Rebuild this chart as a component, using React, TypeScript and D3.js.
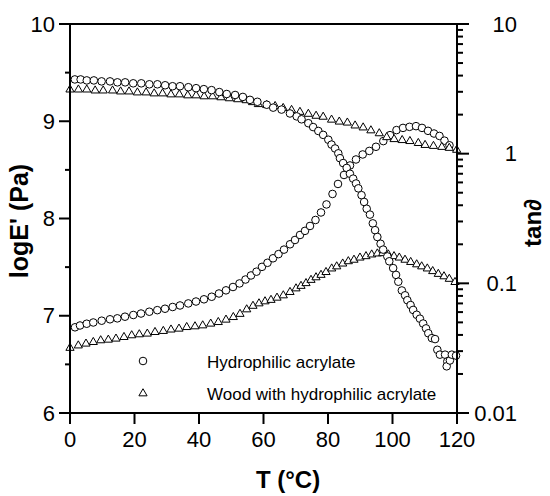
import React from "react";
import * as d3 from "d3";

// Hydrophilic acrylate: log E' (Pa) vs T (°C)
const acrylateModulus: [number, number][] = [
  [1.5, 9.43], [3.3, 9.43], [5.2, 9.42], [7.4, 9.42], [9.8, 9.41], [12.4, 9.41], [14.7, 9.4], [17.1, 9.4],
  [19.6, 9.39], [22.1, 9.39], [24.6, 9.38], [27.1, 9.38], [29.5, 9.37], [31.8, 9.36], [34.1, 9.36], [36.7, 9.35],
  [39.1, 9.34], [41.5, 9.33], [43.9, 9.32], [46.3, 9.3], [48.6, 9.28], [51.2, 9.27], [53.6, 9.25], [55.8, 9.22],
  [58.1, 9.2], [61.0, 9.17], [63.0, 9.14], [65.6, 9.12], [68.2, 9.08], [70.3, 9.05], [71.8, 9.02], [73.9, 8.98],
  [75.4, 8.94], [77.0, 8.9], [78.5, 8.86], [80.1, 8.81], [81.1, 8.76], [82.2, 8.72], [83.2, 8.67], [83.7, 8.62],
  [84.7, 8.57], [85.8, 8.52], [86.8, 8.46], [87.8, 8.41], [88.7, 8.36], [89.4, 8.31], [90.4, 8.24], [91.2, 8.17],
  [92.0, 8.1], [93.0, 8.04], [93.9, 7.95], [94.6, 7.88], [95.3, 7.81], [96.3, 7.74], [97.1, 7.68], [98.4, 7.61],
  [99.0, 7.56], [100.2, 7.49], [101.1, 7.42], [101.8, 7.35], [102.9, 7.26], [103.9, 7.21], [104.6, 7.16], [105.6, 7.11],
  [106.4, 7.06], [107.5, 7.01], [108.5, 6.97], [109.5, 6.92], [110.4, 6.87], [111.1, 6.82], [112.2, 6.77], [113.2, 6.76],
  [113.9, 6.65], [114.7, 6.6], [116.3, 6.6], [117.0, 6.53], [116.8, 6.48], [117.8, 6.54], [118.4, 6.6], [119.7, 6.59],
];

// Wood with hydrophilic acrylate: log E' (Pa) vs T (°C)
const woodModulus: [number, number][] = [
  [0, 9.33], [2.6, 9.33], [5.2, 9.33], [7.8, 9.32], [10.3, 9.32], [13.2, 9.32], [15.7, 9.31], [18.3, 9.31],
  [20.9, 9.3], [23.6, 9.3], [26.1, 9.29], [28.7, 9.29], [31.3, 9.28], [33.9, 9.28], [36.5, 9.27], [39.1, 9.27],
  [41.6, 9.26], [44.2, 9.26], [46.8, 9.25], [49.4, 9.24], [52.0, 9.23], [54.6, 9.22], [56.6, 9.2], [58.4, 9.18],
  [61.0, 9.17], [63.6, 9.16], [66.1, 9.14], [68.7, 9.12], [71.3, 9.1], [73.9, 9.08], [76.3, 9.06], [78.5, 9.05],
  [81.1, 9.02], [83.5, 9.0], [86.0, 8.99], [88.4, 8.96], [90.9, 8.94], [93.3, 8.91], [95.9, 8.88], [98.2, 8.84],
  [100.5, 8.82], [103.0, 8.81], [105.4, 8.8], [108.0, 8.78], [110.1, 8.76], [112.7, 8.75], [115.3, 8.74], [117.6, 8.73],
  [119.9, 8.71],
];

// Hydrophilic acrylate: tan δ vs T (°C)
const acrylateTanDelta: [number, number][] = [
  [1.55, 0.0458], [3.1, 0.0473], [5.18, 0.0488], [7.22, 0.0499], [9.83, 0.0515], [12.4, 0.0528], [14.67, 0.0537],
  [17.05, 0.0553], [19.63, 0.057], [22.02, 0.0585], [24.59, 0.0604], [27.07, 0.0621], [29.46, 0.0637], [31.84, 0.0657],
  [34.11, 0.0675], [36.68, 0.07], [39.07, 0.0724], [41.55, 0.0753], [43.94, 0.0788], [46.2, 0.0835], [48.37, 0.0883],
  [50.54, 0.0937], [52.56, 0.0998], [54.42, 0.107], [56.12, 0.115], [57.83, 0.123], [59.53, 0.134], [61.24, 0.144],
  [62.95, 0.156], [64.65, 0.168], [66.36, 0.182], [68.22, 0.2], [69.77, 0.216], [71.32, 0.236], [72.87, 0.254],
  [74.42, 0.277], [76.12, 0.308], [77.83, 0.352], [79.53, 0.406], [81.4, 0.489], [83.1, 0.584], [84.96, 0.685],
  [86.82, 0.811], [88.68, 0.902], [90.76, 0.986], [92.81, 1.05], [94.88, 1.13], [97.15, 1.25], [99.22, 1.39],
  [101.24, 1.52], [103.26, 1.58], [105.27, 1.61], [107.29, 1.63], [109.15, 1.58], [111.01, 1.5], [112.87, 1.43],
  [114.57, 1.37], [116.12, 1.26], [117.67, 1.16],
];

// Wood with hydrophilic acrylate: tan δ vs T (°C)
const woodTanDelta: [number, number][] = [
  [0, 0.032], [2.57, 0.0334], [4.96, 0.0345], [7.22, 0.0355], [9.52, 0.0366], [11.88, 0.037], [14.26, 0.0377],
  [16.74, 0.0388], [19.13, 0.04], [21.49, 0.0407], [23.97, 0.0412], [26.36, 0.0424], [28.93, 0.0432], [31.32, 0.0443],
  [33.8, 0.045], [36.19, 0.0463], [38.76, 0.0469], [41.15, 0.0477], [43.63, 0.0492], [45.98, 0.0506], [48.37, 0.0528],
  [50.64, 0.0553], [52.71, 0.0585], [54.79, 0.0634], [56.74, 0.0675], [58.6, 0.0705], [60.47, 0.0731], [62.33, 0.075],
  [64.19, 0.078], [66.14, 0.0813], [68.22, 0.0863], [70.08, 0.092], [71.63, 0.0962], [73.18, 0.101], [74.73, 0.107],
  [76.28, 0.112], [77.83, 0.117], [79.38, 0.123], [81.15, 0.131], [82.7, 0.136], [84.56, 0.143], [86.3, 0.149],
  [88.06, 0.153], [89.92, 0.159], [91.78, 0.163], [93.55, 0.168], [95.29, 0.171], [96.96, 0.172], [98.7, 0.168],
  [100.47, 0.163], [102.11, 0.159], [103.88, 0.153], [105.64, 0.147], [107.5, 0.141], [109.05, 0.136], [110.79, 0.131],
  [112.47, 0.125], [114.2, 0.119], [115.97, 0.114], [117.61, 0.109], [119.38, 0.103],
];

const xTicks = [0, 20, 40, 60, 80, 100, 120];
const leftTicks = [6, 7, 8, 9, 10];
const leftMinorTicks = [6.5, 7.5, 8.5, 9.5];
const rightTicks = [0.01, 0.1, 1, 10];
const rightTickLabels = ["0.01", "0.1", "1", "10"];
const legendLabels = ["Hydrophilic acrylate", "Wood with hydrophilic acrylate"];

const FONT = "'Liberation Sans', Arial, Helvetica, sans-serif";

const L = 70, R = 457, T = 24, B = 413;

function triPath(cx: number, cy: number) {
  const hw = 4.1, h = 7.1;
  return `M${cx},${cy - h * 0.6}L${cx + hw},${cy + h * 0.4}L${cx - hw},${cy + h * 0.4}Z`;
}

export default function App() {
  const x = d3.scaleLinear().domain([0, 120]).range([L, R]);
  const yL = d3.scaleLinear().domain([6, 10]).range([B, T]);
  const yR = d3.scaleLog().domain([0.01, 10]).range([B, T]);

  const rightMinor: number[] = [];
  [0.01, 0.1, 1].forEach((d) => {
    for (let k = 2; k <= 9; k++) rightMinor.push(d * k);
  });

  const circle = (cx: number, cy: number, key: string) => (
    <circle key={key} cx={cx} cy={cy} r={3.8} fill="white" stroke="black" strokeWidth={1} />
  );
  const tri = (cx: number, cy: number, key: string) => (
    <path key={key} d={triPath(cx, cy)} fill="white" stroke="black" strokeWidth={1} strokeLinejoin="miter" />
  );

  return (
    <svg width={550} height={496} style={{ position: "absolute", left: 0, top: 0, background: "white" }}>
      <rect x={0} y={0} width={550} height={496} fill="white" />
      {/* data */}
      <g>
        {woodTanDelta.map((d, i) => tri(x(d[0]), yR(d[1]), "wt" + i))}
        {acrylateTanDelta.map((d, i) => circle(x(d[0]), yR(d[1]), "at" + i))}
        {woodModulus.map((d, i) => tri(x(d[0]), yL(d[1]), "wm" + i))}
        {acrylateModulus.map((d, i) => circle(x(d[0]), yL(d[1]), "am" + i))}
      </g>
      {/* frame */}
      <rect x={L} y={T} width={R - L} height={B - T} fill="none" stroke="black" strokeWidth={2} />
      {/* left axis ticks */}
      {leftTicks.map((t) => (
        <g key={"lt" + t}>
          <line x1={L - 11} x2={L} y1={yL(t)} y2={yL(t)} stroke="black" strokeWidth={2} />
          <text x={L - 15} y={yL(t)} dy="0.35em" textAnchor="end" fontFamily={FONT} fontSize={22}>
            {t}
          </text>
        </g>
      ))}
      {leftMinorTicks.map((t) => (
        <line key={"lm" + t} x1={L - 5} x2={L} y1={yL(t)} y2={yL(t)} stroke="black" strokeWidth={2} />
      ))}
      {/* bottom axis */}
      {xTicks.map((t) => (
        <g key={"xt" + t}>
          <line x1={x(t)} x2={x(t)} y1={B} y2={B + 11} stroke="black" strokeWidth={2} />
          <text x={x(t)} y={447} textAnchor="middle" fontFamily={FONT} fontSize={22}>
            {t}
          </text>
        </g>
      ))}
      {/* right axis */}
      {rightTicks.map((t, i) => (
        <g key={"rt" + t}>
          <line x1={R} x2={R + 12} y1={yR(t)} y2={yR(t)} stroke="black" strokeWidth={2} />
          <text x={517} y={yR(t)} dy="0.35em" textAnchor="end" fontFamily={FONT} fontSize={22}>
            {rightTickLabels[i]}
          </text>
        </g>
      ))}
      {rightMinor.map((t, i) => (
        <line key={"rm" + i} x1={R} x2={R + 6} y1={yR(t)} y2={yR(t)} stroke="black" strokeWidth={2} />
      ))}
      {/* axis titles */}
      <text
        transform="translate(28,221) rotate(-90)"
        textAnchor="middle"
        fontFamily={FONT}
        fontWeight="bold"
        fontSize={25}
      >
        logE' (Pa)
      </text>
      <text
        transform="translate(541,223) rotate(-90)"
        textAnchor="middle"
        fontFamily={FONT}
        fontWeight="bold"
        fontSize={24}
      >
        tan∂
      </text>
      <text x={288} y={488} textAnchor="middle" fontFamily={FONT} fontWeight="bold" fontSize={24}>
        T (°C)
      </text>
      {/* legend */}
      {circle(143, 361, "lg0")}
      {tri(143, 393, "lg1")}
      <text x={207} y={368} fontFamily={FONT} fontSize={17}>
        {legendLabels[0]}
      </text>
      <text x={207} y={400} fontFamily={FONT} fontSize={17}>
        {legendLabels[1]}
      </text>
    </svg>
  );
}
